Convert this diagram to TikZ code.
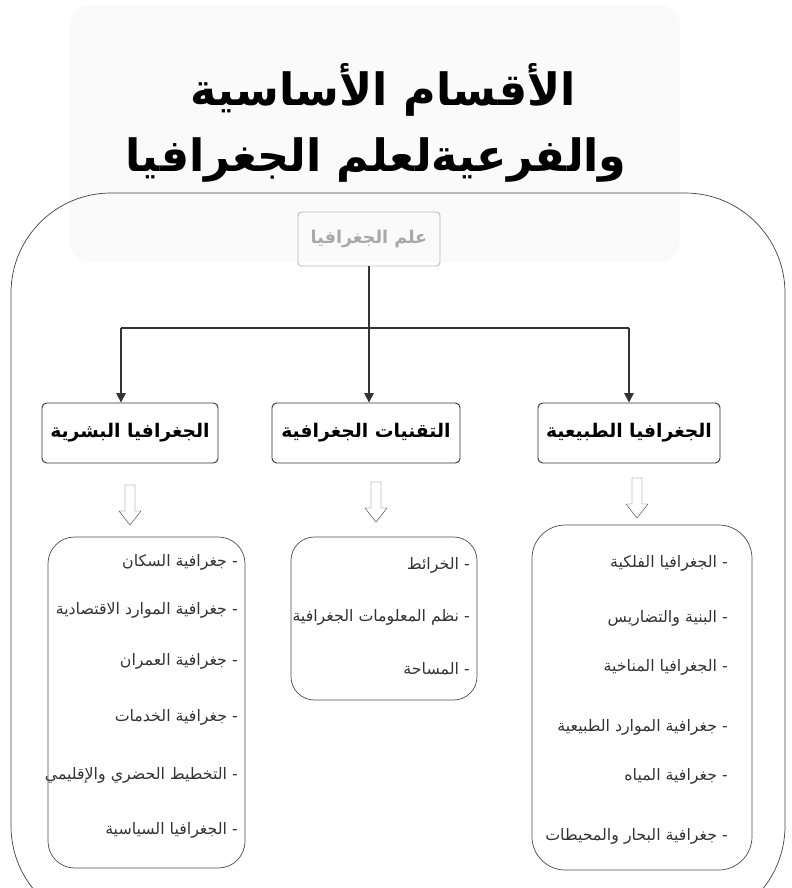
\documentclass[tikz,border=0pt]{standalone}
\usepackage{fontspec}
\TeXXeTstate=1
\newfontfamily\arabicfont[Script=Arabic]{DejaVu Sans}
\newcommand{\artext}[1]{{\arabicfont\beginR #1\endR}}
\usepackage{tikz}
\usetikzlibrary{
	arrows.meta,
	fit,
	positioning
}
\definecolor{headline}{HTML}{333333}
\definecolor{rootline}{HTML}{BBBBBB}
\definecolor{roottext}{HTML}{A8A8A8}
\definecolor{itemtext}{HTML}{333333}
\tikzset{
	Title-Text/.style={inner sep=0,font=\fontsize{38}{46}\selectfont\bfseries},
	Root-Node/.style={rectangle,draw=rootline,thick,rounded corners=3pt,text=roottext,
		font=\fontsize{15}{18}\selectfont\bfseries,minimum width=4.26cm,minimum height=1.62cm},
	Head-Node/.style={rectangle,draw=headline,thick,rounded corners=4pt,
		font=\fontsize{16}{19}\selectfont\bfseries,minimum height=1.8cm},
	List-Box/.style={rectangle,draw=black!70,semithick,rounded corners=0.8cm,inner sep=0},
	List-Item/.style={anchor=east,inner sep=0,text=itemtext,font=\fontsize{13.5}{16}\selectfont},
	Geo-Line/.style={line width=1.4pt,draw=headline},
	Geo-Arrow/.style={-{Triangle[length=8pt,width=8pt]},line width=1.4pt,draw=headline},
	hollow arrow/.pic={
		\draw [black!70, thin, line join=round]
			(-5,-20) -- (-5,6) -- (-11,6) -- (0,20) -- (11,6) -- (5,6) -- (5,-20) -- cycle;
	}
}

\begin{document}
\begin{tikzpicture}[x=0.03cm,y=-0.03cm]
	\useasboundingbox (0,0) rectangle (792,888);
	% title panel and outer frame
	\fill [gray!4, rounded corners=0.6cm] (70,5) rectangle (680,262);
	\begin{scope}
		\clip (0,0) rectangle (792,888);
		\draw [black!75, semithick, rounded corners=3cm] (11,193) rectangle (785,926);
	\end{scope}
	\node [Title-Text] (title_a) at (383,90) {\artext{الأقسام الأساسية}};
	\node [Title-Text] (title_b) at (376,160) {\artext{والفرعيةلعلم الجغرافيا}};
	% tree
	\node [Root-Node] (node_root) at (369,239) {\artext{علم الجغرافيا}};
	\node [Head-Node,minimum width=5.28cm] (node_human) at (130,433) {\artext{الجغرافيا البشرية}};
	\node [Head-Node,minimum width=5.64cm] (node_tech) at (366,433) {\artext{التقنيات الجغرافية}};
	\node [Head-Node,minimum width=5.46cm] (node_phys) at (629,433) {\artext{الجغرافيا الطبيعية}};
	\coordinate (bar_l) at (121,328);
	\coordinate (bar_m) at (369,328);
	\coordinate (bar_r) at (629,328);
	\draw [Geo-Line] (node_root) -- (bar_m);
	\draw [Geo-Line] (bar_l) -- (bar_r);
	\draw [Geo-Arrow] (bar_l) -- (bar_l |- node_human.north);
	\draw [Geo-Arrow] (bar_m) -- (bar_m |- node_tech.north);
	\draw [Geo-Arrow] (bar_r) -- (bar_r |- node_phys.north);
	% hollow arrows
	\pic (arrow_human) at (130,505) {hollow arrow};
	\pic (arrow_tech) at (376,502) {hollow arrow};
	\pic (arrow_phys) at (637,498) {hollow arrow};
	% lists
	\node [List-Box,fit={(48,537) (245,868)}] (list_human) {};
	\node [List-Box,rounded corners=0.7cm,fit={(291,537) (477,700)}] (list_tech) {};
	\node [List-Box,rounded corners=1cm,fit={(532,525) (752,870)}] (list_phys) {};
	\foreach \y/\txt [count=\i] in {562/{- جغرافية السكان},610/{- جغرافية الموارد الاقتصادية},
		661/{- جغرافية العمران},717/{- جغرافية الخدمات},775/{- التخطيط الحضري والإقليمي},
		830/{- الجغرافيا السياسية}}
		\node [List-Item] (item_human_\i) at (238,\y) {\artext{\txt}};
	\foreach \y/\txt [count=\i] in {565/{- الخرائط},617/{- نظم المعلومات الجغرافية},669/{- المساحة}}
		\node [List-Item] (item_tech_\i) at (470,\y) {\artext{\txt}};
	\foreach \y/\txt [count=\i] in {563/{-  الجغرافيا الفلكية},618/{-  البنية والتضاريس},
		667/{- الجغرافيا المناخية},727/{-  جغرافية الموارد الطبيعية},776/{- جغرافية المياه},
		836/{-  جغرافية البحار والمحيطات}}
		\node [List-Item] (item_phys_\i) at (728,\y) {\artext{\txt}};
\end{tikzpicture}
\end{document}
